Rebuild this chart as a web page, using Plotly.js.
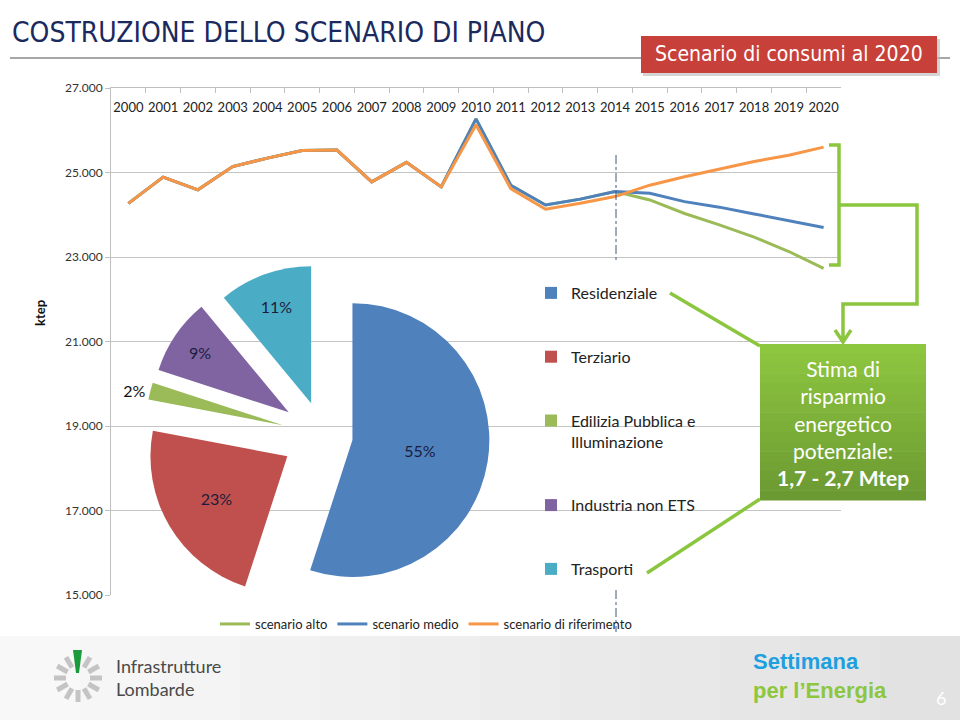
<!DOCTYPE html>
<html><head><meta charset="utf-8">
<script src="https://cdn.plot.ly/plotly-3.0.1.min.js"></script>
<style>html,body{margin:0;padding:0;background:#fff;}#chart{width:960px;height:720px;}</style>
</head><body><div id="chart"></div>
<script>
// ---- data ----
const years = ['2000','2001','2002','2003','2004','2005','2006','2007','2008','2009','2010','2011','2012','2013','2014','2015','2016','2017','2018','2019','2020'];
const scenarioAlto = [24270,24890,24590,25140,25340,25520,25530,24780,25240,24660,26270,24700,24230,24370,24550,24350,24030,23760,23470,23130,22730];
const scenarioMedio = [24270,24890,24590,25140,25340,25520,25530,24780,25240,24660,26270,24700,24230,24370,24550,24510,24310,24180,24020,23860,23700];
const scenarioRiferimento = [24270,24890,24590,25140,25340,25520,25530,24780,25240,24660,26130,24620,24130,24270,24430,24700,24900,25080,25260,25410,25600];
const seriesNames = ['scenario alto','scenario medio','scenario di riferimento'];
const seriesColors = ['#9BBB59','#4F81BD','#F79646'];

const sectors = ['Residenziale','Terziario','Edilizia Pubblica e<br>Illuminazione','Industria non ETS','Trasporti'];
const sectorShare = [55,23,2,9,11];
const sectorColors = ['#4F81BD','#C0504D','#9BBB59','#8064A2','#4BACC6'];
const sectorPull = [0.22,0.3,0.3,0.3,0.25];
const yTicks = [15000,17000,19000,21000,23000,25000,27000];

// ---- helpers: pixel -> paper ----
const L=111, R=119, T=88, B=20, PW=960-L-R, PH=720-T-B;
const PX = x => (x-L)/PW;
const PY = y => (720-B-y)/PH;

const FONT = 'Lato, "Open Sans", sans-serif';
const NARROW = '"DejaVu Sans Condensed", "Liberation Sans Narrow", Lato, sans-serif';

const traces = [];
[scenarioAlto, scenarioMedio, scenarioRiferimento].forEach((s,i)=>{
  traces.push({type:'scatter', mode:'lines', x:years, y:s, name:seriesNames[i],
    line:{color:seriesColors[i], width:3}, legend:'legend', hoverinfo:'x+y+name'});
});
traces.push({type:'pie', labels:sectors, values:sectorShare, sort:false, direction:'clockwise', rotation:0,
  pull:sectorPull, marker:{colors:sectorColors, line:{width:0}},
  textinfo:'percent', textposition:['inside','inside','outside','inside','inside'],
  insidetextorientation:'horizontal',
  textfont:{family:FONT, size:16, color:'#1c1c3c'},
  outsidetextfont:{family:FONT, size:16, color:'#111'},
  domain:{x:[0.04,0.54], y:[0.1416,0.7232]}, showlegend:false, hoverinfo:'label+percent'});
// legend entries for the pie sectors
sectors.forEach((s,i)=>{
  traces.push({type:'scatter', mode:'markers', x:[null], y:[null], name:s, legend:'legend2', legendgroup:'g'+i,
    marker:{symbol:'square', size:10, color:sectorColors[i]}, hoverinfo:'skip'});
});

const GREEN = '#8CC63F';
const shapes = [];
// bottom band (stepped gradient)
const bandN = 12;
for(let k=0;k<bandN;k++){
  const t=k/(bandN-1), c=Math.round(248 - t*22);
  shapes.push({type:'rect', xref:'paper', yref:'paper', x0:PX(k*960/bandN), x1:PX((k+1)*960/bandN+1),
    y0:PY(636), y1:PY(720), fillcolor:`rgb(${c},${c},${c})`, line:{width:0}, layer:'below'});
}
shapes.push(
  // title rule
  {type:'line', xref:'paper', yref:'paper', x0:PX(10), x1:PX(950), y0:PY(58), y1:PY(58), line:{color:'#8a8a8a', width:1.5}},
  // red box
  {type:'rect', xref:'paper', yref:'paper', x0:PX(643), x1:PX(940), y0:PY(39), y1:PY(76), fillcolor:'#b8b8b8', line:{width:0}, opacity:0.6},
  {type:'rect', xref:'paper', yref:'paper', x0:PX(641), x1:PX(937), y0:PY(36), y1:PY(73), fillcolor:'#C8403A', line:{width:0}},
  // white cover (pasted pie picture)
  {type:'rect', xref:'paper', yref:'paper', x0:PX(113), x1:PX(697), y0:PY(262), y1:PY(590), fillcolor:'#ffffff', line:{width:0}, layer:'between'},
  // 2014 divider
  {type:'line', xref:'paper', yref:'paper', x0:PX(616), x1:PX(616), y0:PY(155), y1:PY(262), line:{color:'#3c5a7a', width:1, dash:'dashdot'}},
  {type:'line', xref:'paper', yref:'paper', x0:PX(616), x1:PX(616), y0:PY(590), y1:PY(632), line:{color:'#3c5a7a', width:1, dash:'dashdot'}}
);
// green box (stepped gradient)
const boxN = 16, bx0=760, bx1=926, by0=344, by1=500;
for(let k=0;k<boxN;k++){
  const t=k/(boxN-1);
  const r=Math.round(141-t*(141-108)), g=Math.round(198-t*(198-154)), b=Math.round(63-t*(63-50));
  shapes.push({type:'rect', xref:'paper', yref:'paper', x0:PX(bx0), x1:PX(bx1),
    y0:PY(by0+k*(by1-by0)/boxN), y1:PY(by0+(k+1)*(by1-by0)/boxN+0.6), fillcolor:`rgb(${r},${g},${b})`, line:{width:0}});
}
shapes.push(
  // bracket + arrow
  {type:'path', xref:'paper', yref:'paper', line:{color:GREEN, width:3.5},
   path:`M${PX(829)},${PY(145)} L${PX(839)},${PY(145)} L${PX(839)},${PY(265)} L${PX(829)},${PY(265)} M${PX(839)},${PY(205)} L${PX(917)},${PY(205)} L${PX(917)},${PY(304)} L${PX(843)},${PY(304)} L${PX(843)},${PY(341)} M${PX(835)},${PY(330)} L${PX(843)},${PY(342)} L${PX(851)},${PY(330)}`},
  // connectors
  {type:'line', xref:'paper', yref:'paper', x0:PX(670), x1:PX(760), y0:PY(293), y1:PY(346), line:{color:GREEN, width:3.5}},
  {type:'line', xref:'paper', yref:'paper', x0:PX(647), x1:PX(760), y0:PY(573), y1:PY(499), line:{color:GREEN, width:3.5}},
  // logo green ray
  {type:'path', xref:'paper', yref:'paper', fillcolor:'#1a9a3a', line:{width:0},
   path:`M${PX(73)},${PY(650)} L${PX(82)},${PY(650)} L${PX(79)},${PY(673)} L${PX(76)},${PY(673)} Z`}
);
// logo grey rays
for(let k=1;k<12;k++){
  const a = k*Math.PI/6, cx=78, cy=678, r0=12, r1=24;
  shapes.push({type:'line', xref:'paper', yref:'paper',
    x0:PX(cx+r0*Math.sin(a)), y0:PY(cy-r0*Math.cos(a)), x1:PX(cx+r1*Math.sin(a)), y1:PY(cy-r1*Math.cos(a)),
    line:{color:'#c4c4c4', width:5}});
}

const annotations = [
  {xref:'paper', yref:'paper', x:PX(10), y:PY(32), xanchor:'left', yanchor:'middle', showarrow:false,
   text:'COSTRUZIONE DELLO SCENARIO DI PIANO', font:{family:NARROW, size:28, color:'#1b2a5e'}},
  {xref:'paper', yref:'paper', x:PX(789), y:PY(54), xanchor:'center', yanchor:'middle', showarrow:false,
   text:'Scenario di consumi al 2020', font:{family:NARROW, size:21, color:'#ffffff'}},
  {xref:'paper', yref:'paper', x:PX(40), y:PY(313), xanchor:'center', yanchor:'middle', showarrow:false, textangle:-90,
   text:'<b>ktep</b>', font:{family:FONT, size:13, color:'#111'}},
  {xref:'paper', yref:'paper', x:PX(843), y:PY(423), xanchor:'center', yanchor:'middle', showarrow:false,
   text:'Stima di<br>risparmio<br>energetico<br>potenziale:<br><b>1,7 - 2,7 Mtep</b>', font:{family:FONT, size:21, color:'#ffffff'}},
  {xref:'paper', yref:'paper', x:PX(114), y:PY(677), xanchor:'left', yanchor:'middle', showarrow:false, align:'left',
   text:'Infrastrutture<br>Lombarde', font:{family:FONT, size:18, color:'#4a4a4a'}},
  {xref:'paper', yref:'paper', x:PX(751), y:PY(676), xanchor:'left', yanchor:'middle', showarrow:false, align:'left',
   text:'<b><span style="color:#1e9fe0">Settimana</span><br><span style="color:#8dc63f">per l’Energia</span></b>',
   font:{family:'"Liberation Sans", Arial, sans-serif', size:22, color:'#8dc63f'}},
  {xref:'paper', yref:'paper', x:PX(941), y:PY(698), xanchor:'center', yanchor:'middle', showarrow:false,
   text:'6', font:{family:FONT, size:18, color:'#ffffff'}}
];

const layout = {
  width:960, height:720, margin:{l:L, r:R, t:T, b:B, pad:0},
  paper_bgcolor:'#ffffff', plot_bgcolor:'rgba(0,0,0,0)',
  separators:',.',
  font:{family:FONT, size:12, color:'#222'},
  xaxis:{type:'category', side:'top', range:[-0.5,20.5], showline:true, linecolor:'#bfbfbf', linewidth:1,
    ticks:'inside', ticklen:5, tickcolor:'#bfbfbf', tickson:'boundaries', tickangle:0,
    ticklabelstandoff:-30, ticklabeloverflow:'allow',
    showgrid:false, zeroline:false, tickfont:{family:FONT, size:13, color:'#222'}, fixedrange:true},
  yaxis:{domain:[PY(595), 1], range:[15000,27000], tickvals:yTicks, tickformat:',d', showline:true,
    linecolor:'#bfbfbf', ticks:'outside', ticklen:5, tickcolor:'#bfbfbf', showgrid:true, gridcolor:'#c4c4c4',
    gridwidth:1, zeroline:false, tickfont:{family:FONT, size:12, color:'#333'}, fixedrange:true},
  legend:{orientation:'h', x:PX(215), y:PY(624), xanchor:'left', yanchor:'middle', bgcolor:'rgba(0,0,0,0)',
    font:{family:FONT, size:13, color:'#222'}, itemwidth:30, traceorder:'normal'},
  legend2:{orientation:'v', x:PX(531), y:PY(276), xanchor:'left', yanchor:'top', bgcolor:'rgba(0,0,0,0)',
    font:{family:FONT, size:16, color:'#222'}, tracegroupgap:40, valign:'top', traceorder:'grouped', itemsizing:'constant'},
  shapes:shapes, annotations:annotations, showlegend:true
};

Plotly.newPlot('chart', traces, layout, {displayModeBar:false, staticPlot:true});
</script></body></html>
